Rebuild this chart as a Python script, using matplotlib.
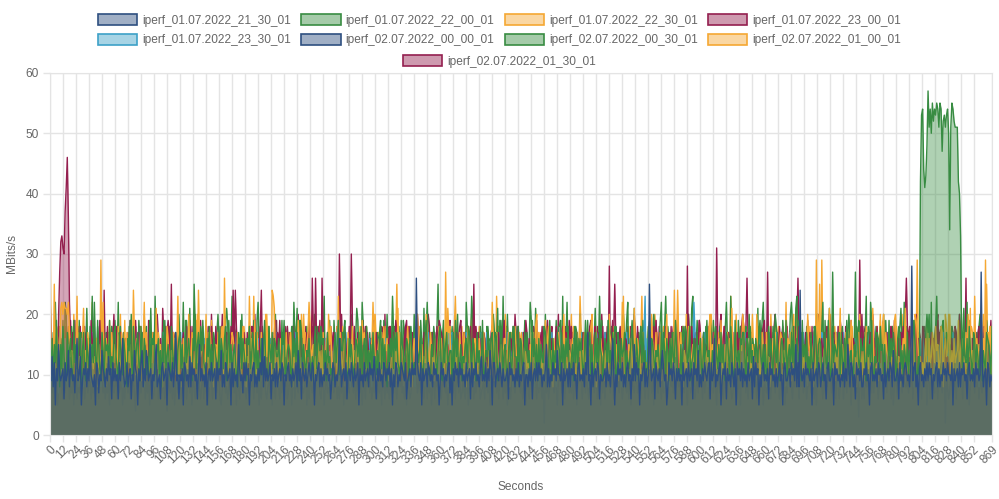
import numpy as np
import matplotlib
matplotlib.use("Agg")
import matplotlib.pyplot as plt
from matplotlib.patches import Patch

plt.rcParams["font.family"] = ["Liberation Sans", "DejaVu Sans"]

# one character per second; value in MBits/s = position of the character in CHARS
CHARS = "0123456789abcdefghijklmnopqrstuvwxyzABCDEFGHIJKLMNOPQRSTUVWXYZ"


def decode(s):
    return np.array([CHARS.index(c) for c in "".join(s.split())], dtype=float)


names = ["iperf_01.07.2022_21_30_01", "iperf_01.07.2022_22_00_01", "iperf_01.07.2022_22_30_01",
         "iperf_01.07.2022_23_00_01", "iperf_01.07.2022_23_30_01", "iperf_02.07.2022_00_00_01",
         "iperf_02.07.2022_00_30_01", "iperf_02.07.2022_01_00_01", "iperf_02.07.2022_01_30_01"]

seconds = list(range(870))
tick_labels = list(range(0, 853, 12)) + [869]

s_21_30 = (
    "a9d8c5b9fa 9ab6c9ae8b b9a7cg9ad5 9bac8b9fa9 8a5cb7a9eb a8b9dab6c9 "
    "b9a6c9bga8 9c8ab6a9eb a5b9ce8b9e c9ab6a9cf8 9a6bc9ab5c ba9c8bh9a6 "
    "a9b5cb9a8d 8cab9a6bf9 b9a8c5ab9c 9ab6c9bae8 a8cb9ab5c8 b9a8fb9a7c "
    "9cab5a9bc8 a8b9cag8d9 b9ac6a9b8c 8ab9cb5a9b c9a8b9ac8e 9b6ca9b8ac "
    "a9cb5a9bc8 b8a9cab9a6 9cb8a9bgc8 ab9c6ab9ca 8b9ac5b9a8 c9ab8cab9d "
    "a6b9c9a8cb 9bac8b5a8c b8a9cba9c6 9ab8cabaqc a9c5b9ab8c b9a8cab9a5 "
    "9cab8a9bc7 a5b9cab8ca b9a8c9ab6c 8bac9a8bd9 a9c8b9eb5c c8ab9ca8b9 "
    "9ab6cab9a8 b9c8a9bc5a a8b9c6ab9c 9cab8a9bf8 b8a9cab9ea a9c5b9ab8c "
    "8bac9a6bc9 a9b8cah9a5 c8ab9cb6a9 9ab8c9a8bg b5a8cab9c8 a8bc9a6b9f "
    "9cab5a9bc8 b8apc9ab6c a9b8ceb9a5 8cab9ca6b9 b9a5c9ab8c 9ab6cab9e8 "
    "a8b9ca9bc6 c9ag8a9bc5 9bac6b9a8c a8b5cab9c8 b9a8c9ab6d 8cab5a8bc9 "
    "a9b6cab9a8 b8ac9a5bc9 9ab8cab9f8 c8oa9b8cab a9b5c9ab8c b8ac9a6bc9 "
    "9ab5cab9a8 a9c8b9fb8c b8a6cab9c8 8bac9a5bc9 a9b8cab9a6 c8ab9cb8e9 "
    "9ab6c9a8bc b9a8cs9bc8 a5bc9a8b9c 9cab6a9bc8 b8a9cab9ca a9c5b9ab8c "
    "8bac9a6bc9 a9b8cab9ar c8ab5cb8a9"
)
s_22_00 = (
    "dag9fcjbe8 fbida9hceg a9jcfbdgh8 ehb9gdaicf cmdaifb9he 9gefcjadbh "
    "idb9hfcage b8gejdaifc fhc9idbgea d9jbgfhace gae8hcjbdf c9ifbdhaeg "
    "hbfa9jcegd a9gekbfhci ejcb9gdiaf 9hfdcaibge bgi9ejcfad fda8hcjbge "
    "c9gfibdhea hbe9dgafjc a9iechbgfd dgc9hfjabe feb8idgcha 9jhbfcaedg "
    "cad9gibfhe ifgbe9hcda b9dhcfjage ehja9bgdfc 9cgfdhbiae gbi9ecfahd "
    "dae9hjbgcf a8fcgdibhe hcb9jfeadg f9gidacbhe cehb9dgjfa b9fdigcaeh "
    "ia9gcfhbde e8hbjdgacf 9dcfgbihea gfb9hceadj a9edifbghc chg9bdjfae "
    "fb9ehcagid d9iagfbche hce9bjdgaf 9gbfdcihea bjd9gaechf e9hcfbgdia "
    "adf9ichbge gc9ejbdfha f9bhcgaied 9dgfbjceah cia9hfbgde h9ecbdgjfa "
    "agd9fichbe 9bhjcgfdae dfc9ibheag e9gbhdcjfa b9faegihcd i9cdgbfhae "
    "gb9hcfjdea 9ecgidbfah cfb9hgdaie a9jdcebgfh hd9gfbicea 9gechjdbfa "
    "f9bidgcahe cha9egfbdj 9dfbhciaeg ebg9jdfcha d9hcbgieaf gf9adhcbje "
    "9bicfedgha hc9gbjfade a9fdihcbge egb9hdfcja 9dchgbiefa fa9bjcgdhe "
    "c9gihbeafd bh9ecdgjfa 9daGRSIFHM VPSOTQSRTS PTSLQRPRSO yPTSQPPPGE "
    "xfbhdcgaie c9hgbfdaej 9ecbhgfdai"
)
s_22_30 = (
    "Hcfapdigbe lmkmllkmhd e9gcfnbda8 glbe9hecfd bdcg8fadhm a9gcejbhdc "
    "fdbi9checj 8hdcfbdoga gcbei9ekfh d9cgchealb hefb8dgcig c9edhabfna "
    "gf8gdecbke 9hcbejcofd egd9kcfbhc c8efbhdagi aqce9fcdhg eb9hgdaeic "
    "f8dcnegbej 9hdcbhafck dhbf9onlce e9egcbfdhc bdhd8ecfcj g9ackebfhm "
    "icef9dbdga e8hcbgckfi d9dgeanbhc bgfc8hdbci 9ecgdbiejf hdab9ecgek "
    "c8dfgbhdie eg9cadfbhe 9lbhfecade idgc8egbhk e9cfbdckgd bhed9gacfi "
    "egdb9rclhi 9dfcgbedhc dbhc8gieac e9gfacgdbh hecb9eadmf 9ghdabfecg "
    "gbdh8dacei e9ceghebfd bdaf9hgcik 9hecbdfjdg idbe8gacbh f9cdkegcbe "
    "cegb9ahfdk 9ebhbdcefi kbcf8edage d9ecabhgfc hgbf9cbedn 9bdcfegcal "
    "fdge8dehbc c9ebekfadh bdah9ecgek 9cegcbhdfo gchb8edaei e9dfcacgbd "
    "hbgd9edcik 9fchbcegdj dabf8hcgel f9hecdbgek iebd9gcafd 9dkfeabhec "
    "bhcd8adgeh e9cfhgcebm cgdh9ekfdb 9ehcafbdek fdge8achkd p9cbefgdel "
    "bcge9hadfl 9fdchbegej gcef8dhaea e9cigbfdbl dbac9gjeik 9hedbacfej "
    "kfcd8bdgel c9daefhbkj hebd9cadga 9gcdhecief bcih8egdek f9ebgcdeja "
    "egcd9hbkdl 9ebndgcfek dgctbhfiea"
)
s_23_00 = (
    "cagdbhe9kr wxvuBFKAmf dh9jcegbia ebhfa9gdjc hc9gebjdfa 9fdichbegk "
    "bicf9hdaeg gd9bjecfhi aehcg9dibf 9jbfdhcgea dfgb9eichj hepcgd9bif "
    "c9fhbeidga ibdg9cfhej 9hcfeagdbi egbidhc9fk bcfh9gdieo foidcgeb9h "
    "d9hbfceigj cgbeiodfha 9ehcfbgdjb hfjd9cbegi e9gbihcfda bidg9fehcj "
    "gdqhcqfbie 9qhfdcbgei eghb9dcuif c9hfbeiguj fgbdhc9eai 9ichdbfgej "
    "bhed9fcgia e9gcibdhfj hdfb9ecgia 9cighbdfek gbed9hcifa c9fhdgbiej "
    "ihgb9cdfea 9dfcehbgij ebhg9fcdia dpcifhbeg9 hgbe9dcfia 9fcdhbiegj "
    "cebh9gfdia f9idgcbhej hcgb9efdia 9ebfidhcgj dhcg9bfiea b9fieghcdj "
    "gicb9dhefa 9bhdfecgij ecgi9bhfda i9dfhcebgj dbhe9gicfa 9gfcbdihej "
    "hcie9fbgda c9bgdhfiej fdgh9ecbia 9hcibfgdej bgfe9dichk e9idcgbhfj "
    "hbcg9fedia 9dhfbicgej cgie9bhdfa f9bdhegcik icfh9dgbea 9ebgcfdhij "
    "dhgb9icfea c9fiehbgdk gbdc9fhiea 9icfgdbhej ehbi9cgdfa b9gdfhciek "
    "fcgh9dbiea 9hdbicfgej dgfe9bhcia i9cbgdfhek hbdi9gcfea 9fhcdbigej "
    "cdbg9hfiea e9hicfbdgk bgcd9ihfea 9dfhbgciej fhie9cgbda c9gbdihfek "
    "hdcf9bgiea 9gbehcfidj ecih9dfbga"
)
s_23_30 = (
    "a8dbf9ce7h b9ecga8fdb 9fbdhc8aeg c8gaebf9dh eb9fcga8hd 8dcgbe9fah "
    "f9bhcda8ge a8egbcf9dh d9hcfbe8ga 9bgdeca8hf c8fbhgd9ae b9dcegf8ha "
    "e8hbgad9fc 9cfdbhe8ga a9gcedb8hf f8bdhca9ge 8gcebfd9ah d9hagcb8fe "
    "b8fcdeg9ha e9gbhfa8dc 9dcgbea8fh c8hdfgb9ea a9ebcdh8gf g8dfbca9he "
    "9hcegbd8fa b9fagdc8he e8gcbhf9da d9bhefa8cg 8fgcdbe9ha c9haegb8fd "
    "a8dbfch9ge g9cedba8hf f8hgbcd9ea 9bfdhea8gc e9gcabf8dh b8edhgc9fa "
    "d9fbcea8hg 8hgeadb9fc c9bfhgd8ea a8dcebf9hg g9ehbca8df f8cgdhb9ea "
    "9bhfaed8gc e8gdcbh9fa b9fachg8de d8ebgfc9ha 9gchdba8fe c9hfegd8ba "
    "a8bdhcf9ge h9egfbc8da f8dacgh9be 9chbedf8ga e9gfbha8dc b8hdcge9fa "
    "d9fegbc8hn 8gbhdcf9ea c9ebhga8df a8hgcdb9fe g9dfbec8ha f8cbmhd9ge "
    "9bgdhfa8ec e8hcbgd9fa b9fhaec8gd d8gebcf9ha 9hdcfgb8ea c9egbha8fd "
    "a8fdhcg9be h9bgefd8ca f8ehcab9gd 9gdfbhe8ca e9chgdb8fa b8hfeag9dc "
    "d9gbcfh8ea 8fhdbec9ga c9bgehd8fa a8eghfc9db g9dcbah8fe f8ghdeb9ca "
    "9cebfgh8da e9hdagc8bf b8fgdch9ea d9ehbfa8gc 8gcdhbe9fa c9bhfgd8ea "
    "a8degch9bf g9fbcda8he f8hcgeb9da"
)
s_00_00 = (
    "8a7968b579 a8697a8b68 7958a69785 9a68b79a68 7859a6b897 a68795a8c7 "
    "8a6978a586 9b7a68a974 a8697b8a69 7a59867a8b 69a7b8694a 8796a58b79 "
    "a6879a68b7 95a8697a86 8b6a7958a9 6a8b79a658 9a7868b79a 7a5986a897 "
    "86a7b98a69 a79586a8b7 6897a5b869 a8697a98c6 79a58b6a87 9a6878a596 "
    "a87969b8a7 6a958a7b69 8a79a68697 a5869b7a8d 7a69a87958 96a8b7a697 "
    "8a697a5b86 a7968a97a8 69a8b78695 a867a9e8b7 8a79a68a69 7a5896b8a7 "
    "a69a87958a 8b7a69a796 7a869a58b9 a697b8a678 96a8795a8b 8a796a8a69 "
    "7a58a69b87 a98a7968a5 8a69b7a896 a7a8692a79 68a9b7a859 9a78a6b8a7 "
    "87a69a58b9 a69b7a8697 8a79a68a5b 7a6a98b79a 69b8a7a968 a8796a5b87 "
    "9a78a69a86 8b69a7a589 a7a8697b8a 6a98a7b69a 8a69b7a859 a7a9868a7b "
    "8a6b7a9a68 9a7a85a97b a68b7a9a86 7a9a68b5a9 8a7a69a8b7 a96a7b8a58 "
    "97a8a6b9a7 a8a69b7a58 7a9a86a8b9 a6b8a79a68 8a7a96a5b8 9a86a7b8a9 "
    "a7a8b6a968 8a69a7b8a5 9a8a7b3a96 a6b8a98a7a 7a9a68b8a6 8a7b9a6a58 "
    "a96a8b7a98 8a7a9b6a8a 7a8a69b8a5 9a6b8a7a96 a8a79b2a86 7a9a8b6a8a "
    "8a6b9a7a58 a9a7b8a6a8 7b8a6a9a87"
)
s_00_30 = (
    "eb9hcmfdia gcjamkbfh8 idbgfc9jeh b8helcgafn fidbj9gcek a9hfcegibd "
    "jcembi8fha dg9ickbeaf ebjf9hdcgi 7fcldgbnea hdbe9jcgfi cigaf9ebhk "
    "f8dmcbjgel bgcpiadfh9 eiafjcgb9h a9gdhkfcie dcjlie8gna ihfc9gbkde "
    "9gaeihdcjf bjmf7cieha e9icgfbhkd gdhaj9ecfi c8fibmhgla jheg9dbicf "
    "a9bdkcfihe ifgn8ecbja d9jfcbigeh hcia9gfdkb 7egljdhcmi fbid9hceag "
    "c9hgeifbjd ekd8bfnhia 9ficgbjhde hcbe9dkgfi b8jfdlchmg gdhc9bfipe "
    "9egjbhdcfi ficd9gkbeh d7hbmicgfn jbgf9hdiec e9cihbgfdk hfgl8jecnd "
    "9dkcfhbige cibe9gfdjh b8fmjdcelg gedc9ibkfh 9hgfdbejci ijbn7cgmdf "
    "e9cgfihbdk dhfb9gjcie 8bgldcfnej fceh9jbgid c9igdhefbk hfjm8ecgdl "
    "9dghcibjfe ebic9fhkgd d7gjmbcinf ifcd9hgbej b9hfigdcek geln8cfjhd "
    "9cfhdibgej hbje9gdcif e8dimfhbnc fcgb9jeidh 9hieckdbgf dfbl7hgjme "
    "c9hdgebifk igec9bjfhd 8bfkmicdln ejdh9gfbic b9gfcihekd hcim8jdgfl "
    "9drgfbhcie fieb9chkgd d9grcejibh gfhn8idmje 9eibgfhcdk cjdf9bgihe "
    "e7chilfdmg ibge9hcjdf 9gfdbciehk hkbm8egind d9fijbchge fcid9hgbek "
    "8bhlefmcjd gdbf9hcike c9eijgbhdf"
)
s_01_00 = (
    "hadcbefgci cfadbcgieb gckebdhdca ebhbdfcagm acfedgbtbe dbgcahcfbe "
    "hecbdkbacd cadgbhefae debhcafmca fecgbedahb badcfchgei edhbcegcfa "
    "egcadfbhdf chaebfkdgb adfbgchbej fcbdheacig hcgabfedce dbehcgabfi "
    "gbadcfhcne eafchbdgdb kdgabecahf cfhebgdbca hebdacfieg eckgadhfbc "
    "agdhcfbeie bhfaedcgci fbcgbihdae iecdbgfach dgafcehbdi hcibadefmg "
    "kfdhgcaebi cagebdfedh pdhcfagbdc gbefadchic eiacgbfddh afdhebcbgi "
    "bhgcdaifce fcainegbhd idfcghbaek dcbafeicgh hgecbdabif cbnfigadec "
    "kfidabhceg eachfgdbbi gdcbiehcaf bhfacdegie ficgeabhdc aegdhbcfib "
    "dkbifcagen hcaegbfddi bfdihecagb cgebackdfh iahcfdbeme egcdbicahf "
    "bafhegndci fdiecahbkg hecgbfidae dfacheocbi abegifdkch gihdcebeaf "
    "cedafhbgib kgbfidchea eahcbgfdni bcfkaedihg idgbhcafke fceidgbhca "
    "hbacfkedgi dgibebcafh afcdhigbke ehcbgfadci cidfahctbe gctefadhic "
    "kchgidbeaf faebdcgihd idgafhekcb bhdcedafgi aedifbkchg hcfdgabide "
    "dibhcekfag gcadifchbe tfcgeahdbi cibdhfdgea eagdcbkifh kdhfaigcbe "
    "fbcidedagh ihfdagcbke bkdapfhcie"
)
s_01_30 = (
    "ohcfdbigea 9cgeibhdfj bfdh9cgiea e9ichfbdgk hgbd9efcia odfbhcgie9 "
    "cieg9bhdfa f9hdbcgiej dbgi9hefca 9hecfdbgik gcfblhdi9e i9dchgbfea "
    "cfeh9bidgj 9dibgfchea hbgc9eifdk e9fhdbcgia dgic9hbfej 9bhfegdcia "
    "fcdb9gihek c9hgiedbfa ideb9fchgj 9fgcbhdiea bhed9cgfik g9cfhbidea "
    "ecih9dgbfj 9gdbfcheia hfbc9igdek d9egcfhbia cibf9hedgj 9hcdebgfia "
    "fegb9dihck b9hidcgfea gdce9fbhij 9ifhbdcgea echd9gbfik i9bgfhdcea "
    "hdfc9ebgij 9cgihfdbea bfeg9hicdk d9ihbcfgea cgbf9dehij 9ehdicgbfa "
    "fibc9hdgek h9dgefcbia gced9bihfj 9bfhgdciea ehgi9cfbdk c9fbdhiega "
    "idhc9gefbj 9gcefbhdia bfdg9ichek f9hcidsbge hpgbdc9eia 9ebicfgdhk "
    "dchf9biega e9gdhcbfij gbie9fdhca 9fdbgihcek chgi9edbsa i9bcfhgdej "
    "fdeh9cigba 9gcbdvhfik beid9hcgfa h9fgcdbiej dciqgebhf9 9bhfidcgea "
    "gerc9fhbik c9dhbgifea ifbg9chdej qhce9dbfga 9ecgdhibfk bgfh9eidca "
    "e9ibchgdfj hcdg9fbiea 9fbeigdtck dhig9cebfa g9ecfdhbij cbfh9idega "
    "9gdcbhefik qibe9chdgj f9hgdcbiea ecdb9gfhik 9hfciebdga bgih9decfj "
    "h9cdeqbgia 9fbgcdhiek dceh9bfgja"
)

raw = [s_21_30, s_22_00, s_22_30, s_23_00, s_23_30, s_00_00, s_00_30, s_01_00, s_01_30]
values = [decode(s) for s in raw]

navy = (0.18, 0.31, 0.50)
green = (0.22, 0.55, 0.26)
orange = (0.96, 0.66, 0.20)
crimson = (0.58, 0.12, 0.31)
lblue = (0.24, 0.63, 0.78)
colors = [navy, green, orange, crimson, lblue, navy, green, orange, crimson]

fig, ax = plt.subplots(figsize=(9.99, 4.99), dpi=100)
fig.subplots_adjust(left=0.050, right=0.993, top=0.854, bottom=0.128)

# first dataset drawn last (on top), fill then line per dataset
for k in reversed(range(len(values))):
    y = values[k]
    x = seconds[:len(y)]
    ax.fill_between(x, 0, y, color=colors[k], alpha=0.4, lw=0, zorder=2)
    ax.plot(x, y, color=colors[k], lw=1.0, zorder=2)

grid_c = "#e4e4e4"
txt_c = "#666666"
ax.set_xlim(0, 869)
ax.set_ylim(0, 60)
ax.set_yticks(range(0, 61, 10))
ax.set_xticks(tick_labels)
ax.set_xticklabels([str(t) for t in tick_labels])
plt.setp(ax.get_xticklabels(), rotation=45, ha="right", rotation_mode="anchor")
ax.tick_params(axis="both", colors=grid_c, labelcolor=txt_c, labelsize=8.6, length=5, width=1)
ax.tick_params(axis="x", pad=1)
ax.tick_params(axis="y", pad=3)
ax.grid(True, color=grid_c, lw=1)
ax.set_axisbelow(True)
for sp in ax.spines.values():
    sp.set_color(grid_c)

ax.set_xlabel("Seconds", fontsize=8.6, color=txt_c)
ax.xaxis.set_label_coords(0.5, -0.128)
ax.set_ylabel("MBits/s", fontsize=8.6, color=txt_c)
ax.yaxis.set_label_coords(-0.034, 0.5)

handles = [Patch(facecolor=c + (0.45,), edgecolor=c, lw=1.2) for c in colors]
leg_kw = dict(frameon=False, fontsize=8.6, handlelength=3.3, handleheight=1.05,
              handletextpad=0.42, columnspacing=0.85, labelspacing=0.6,
              borderpad=0, labelcolor=txt_c)
order = [0, 4, 1, 5, 2, 6, 3, 7]  # legend fills column by column
fig.legend([handles[i] for i in order], [names[i] for i in order], ncol=4,
           loc="upper center", bbox_to_anchor=(0.5, 1 - 8 / 499), **leg_kw)
fig.legend(handles[8:], names[8:], ncol=1, loc="upper center",
           bbox_to_anchor=(0.5, 1 - 49 / 499), **leg_kw)

fig.savefig("out.png", dpi=100)
